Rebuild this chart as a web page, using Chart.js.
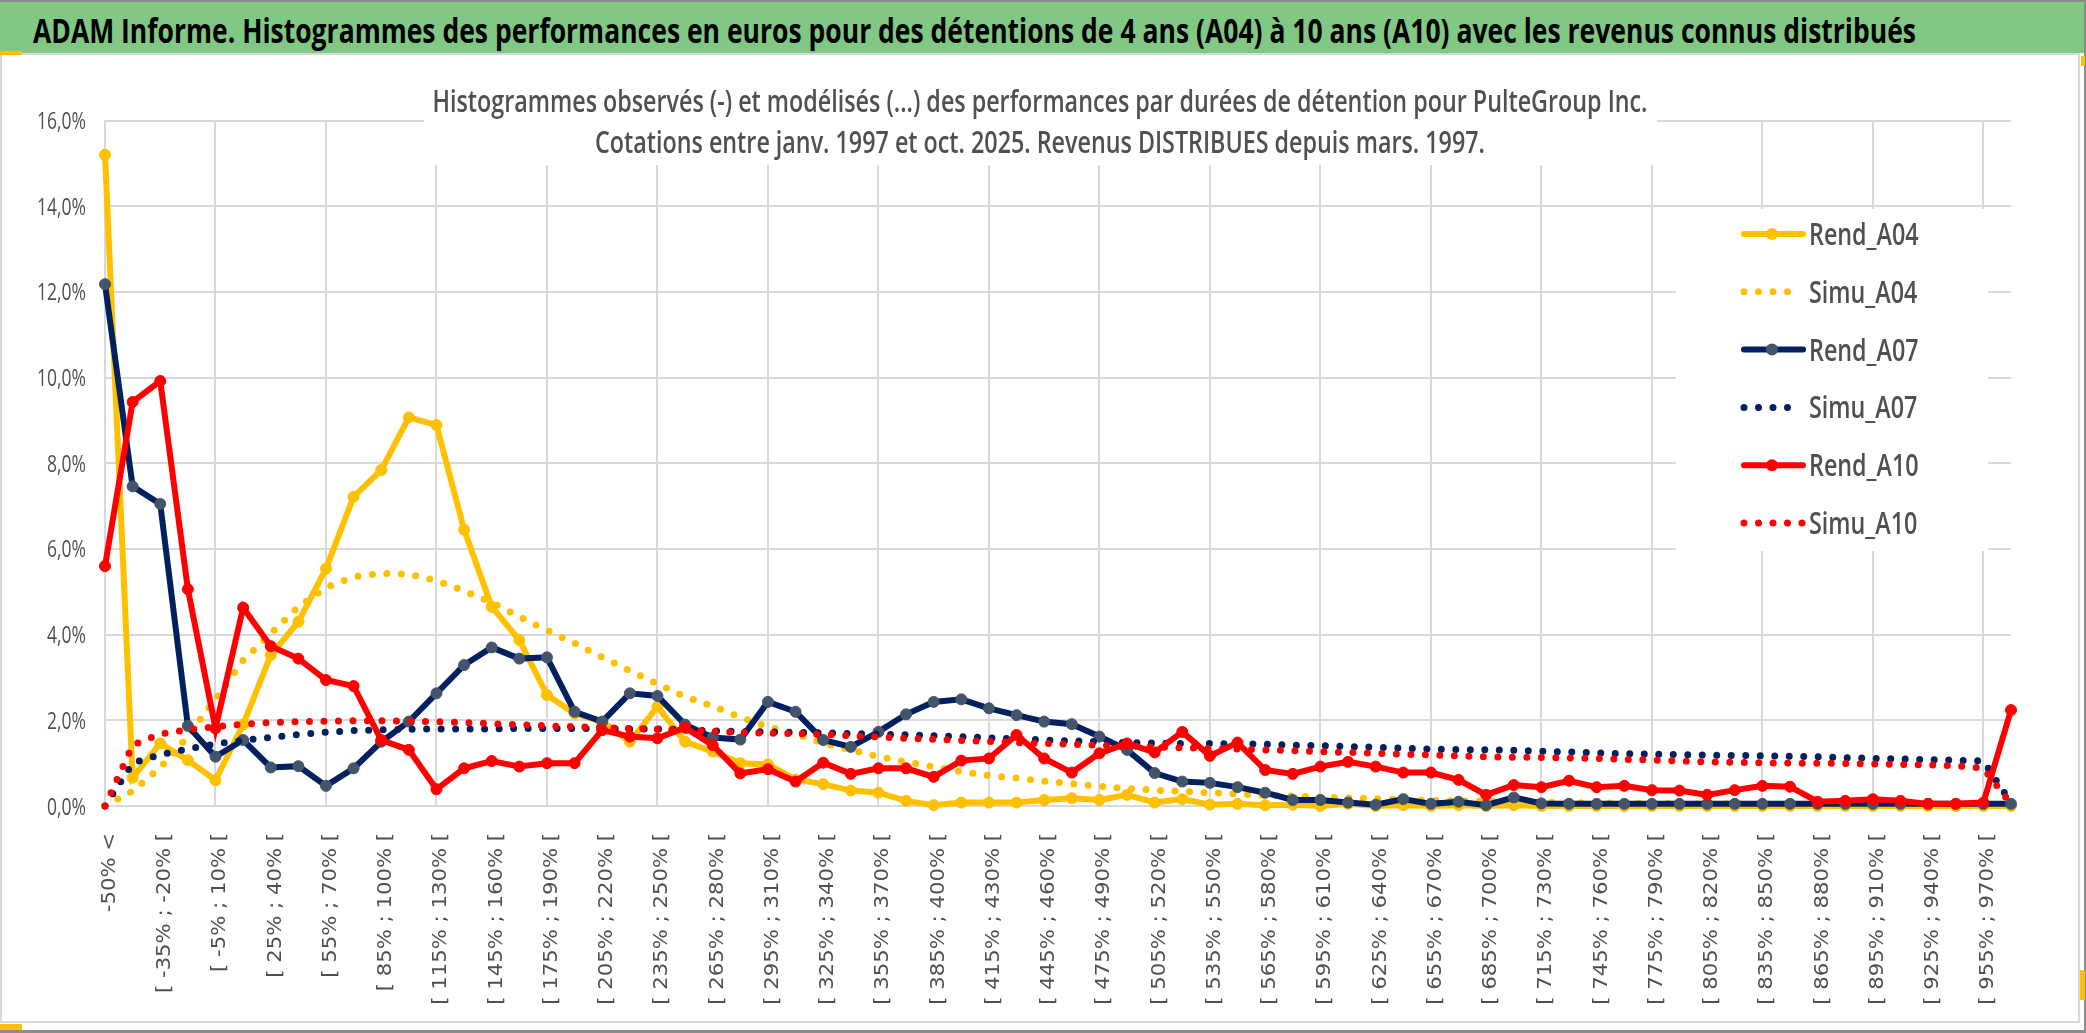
<!DOCTYPE html>
<html lang="fr">
<head>
<meta charset="utf-8">
<title>ADAM Informe - PulteGroup Inc.</title>
<script src="https://cdn.jsdelivr.net/npm/chart.js@4.4.1/dist/chart.umd.min.js"></script>
<style>
    html, body { margin: 0; padding: 0; background: #fff; }
    body { width: 2086px; height: 1033px; position: relative; overflow: hidden; }
    #chart-box { position: absolute; left: 0; top: 0; width: 2086px; height: 1033px; }
    #frame { position: absolute; left: 0; top: 53px; width: 2080px; height: 970px; border: 2px solid #d9d9d9; box-sizing: border-box; }
    #header { position: absolute; left: 0; top: 2px; width: 2086px; height: 51px; background: #80c883; z-index: 2; }
    #header span { position: absolute; left: 33px; top: 11px; font: 700 34px/34px 'Open Sans', sans-serif; color: #000; white-space: nowrap; transform-origin: 0 0; }
    .edge { position: absolute; z-index: 3; }
</style>
</head>
<body>
<div id="frame"></div>
<div id="chart-box"><canvas id="perf-chart"></canvas></div>
<div id="header"><span id="header-text">ADAM Informe. Histogrammes des performances en euros pour des détentions de 4 ans (A04) à 10 ans (A10) avec les revenus connus distribués</span></div>
<div class="edge" style="left:0;top:0;width:2086px;height:2px;background:#8c8c8c"></div>
<div class="edge" style="left:0;top:1030px;width:2086px;height:3px;background:#8c8c8c"></div>
<div class="edge" style="left:2084px;top:0;width:2px;height:1033px;background:#8c8c8c"></div>
<div class="edge" style="left:0;top:51px;width:22px;height:4px;background:#ffc000"></div>
<div class="edge" style="left:0;top:1024px;width:22px;height:6px;background:#ffc000"></div>
<div class="edge" style="left:2081px;top:56px;width:4px;height:10px;background:#ffc000"></div>
<div class="edge" style="left:2080px;top:970px;width:5px;height:30px;background:#ffc000"></div>
<script>
// Classes de performance (axe des x)
const categories = [
    "-50% <",
    "[ -50% ; -35% [", "[ -35% ; -20% [", "[ -20% ; -5% [", "[ -5% ; 10% [", "[ 10% ; 25% [",
    "[ 25% ; 40% [", "[ 40% ; 55% [", "[ 55% ; 70% [", "[ 70% ; 85% [", "[ 85% ; 100% [",
    "[ 100% ; 115% [", "[ 115% ; 130% [", "[ 130% ; 145% [", "[ 145% ; 160% [", "[ 160% ; 175% [",
    "[ 175% ; 190% [", "[ 190% ; 205% [", "[ 205% ; 220% [", "[ 220% ; 235% [", "[ 235% ; 250% [",
    "[ 250% ; 265% [", "[ 265% ; 280% [", "[ 280% ; 295% [", "[ 295% ; 310% [", "[ 310% ; 325% [",
    "[ 325% ; 340% [", "[ 340% ; 355% [", "[ 355% ; 370% [", "[ 370% ; 385% [", "[ 385% ; 400% [",
    "[ 400% ; 415% [", "[ 415% ; 430% [", "[ 430% ; 445% [", "[ 445% ; 460% [", "[ 460% ; 475% [",
    "[ 475% ; 490% [", "[ 490% ; 505% [", "[ 505% ; 520% [", "[ 520% ; 535% [", "[ 535% ; 550% [",
    "[ 550% ; 565% [", "[ 565% ; 580% [", "[ 580% ; 595% [", "[ 595% ; 610% [", "[ 610% ; 625% [",
    "[ 625% ; 640% [", "[ 640% ; 655% [", "[ 655% ; 670% [", "[ 670% ; 685% [", "[ 685% ; 700% [",
    "[ 700% ; 715% [", "[ 715% ; 730% [", "[ 730% ; 745% [", "[ 745% ; 760% [", "[ 760% ; 775% [",
    "[ 775% ; 790% [", "[ 790% ; 805% [", "[ 805% ; 820% [", "[ 820% ; 835% [", "[ 835% ; 850% [",
    "[ 850% ; 865% [", "[ 865% ; 880% [", "[ 880% ; 895% [", "[ 895% ; 910% [", "[ 910% ; 925% [",
    "[ 925% ; 940% [", "[ 940% ; 955% [", "[ 955% ; 970% [",
    "> 970%"
];

const yTickLabels = ["0,0%", "2,0%", "4,0%", "6,0%", "8,0%", "10,0%", "12,0%", "14,0%", "16,0%"];

const subtitleLines = [
    "Histogrammes observés (-) et modélisés (...) des performances par durées de détention pour PulteGroup Inc.",
    "Cotations entre janv. 1997 et oct. 2025. Revenus DISTRIBUES depuis mars. 1997."
];

// Fréquences en %
const rendA04 = [15.2, 0.66, 1.46, 1.07, 0.6, 1.9, 3.52, 4.3, 5.54, 7.22,
    7.84, 9.07, 8.89, 6.45, 4.65, 3.87, 2.59, 2.16, 1.97, 1.5,
    2.32, 1.5, 1.27, 1.0, 0.97, 0.62, 0.51, 0.36, 0.31, 0.12,
    0.02, 0.08, 0.08, 0.08, 0.14, 0.18, 0.14, 0.26, 0.08, 0.16,
    0.03, 0.05, 0.02, 0.03, 0.0, 0.05, 0.0, 0.02, 0.0, 0.02,
    0.0, 0.02, 0, 0, 0, 0, 0, 0, 0, 0,
    0, 0, 0, 0, 0, 0, 0, 0, 0, 0];

const simuA04 = [0, 0.35, 0.9, 1.62, 2.5, 3.4, 4.02, 4.65, 5.1, 5.35,
    5.43, 5.41, 5.26, 5.02, 4.75, 4.42, 4.1, 3.8, 3.47, 3.16,
    2.85, 2.55, 2.33, 2.07, 1.85, 1.68, 1.47, 1.31, 1.15, 1.03,
    0.92, 0.8, 0.71, 0.65, 0.58, 0.52, 0.46, 0.41, 0.37, 0.34,
    0.31, 0.28, 0.25, 0.23, 0.21, 0.19, 0.17, 0.15, 0.13, 0.12,
    0.11, 0.1, 0.09, 0.08, 0.07, 0.07, 0.06, 0.06, 0.05, 0.05,
    0.04, 0.04, 0.04, 0.03, 0.03, 0.03, 0.03, 0.02, 0.02, 0.0];

const rendA07 = [12.18, 7.46, 7.05, 1.87, 1.15, 1.54, 0.9, 0.93, 0.47, 0.88,
    1.5, 1.97, 2.63, 3.29, 3.7, 3.44, 3.47, 2.2, 1.97, 2.63,
    2.57, 1.9, 1.6, 1.55, 2.43, 2.2, 1.54, 1.38, 1.73, 2.14,
    2.43, 2.49, 2.28, 2.12, 1.97, 1.91, 1.62, 1.31, 0.77, 0.57,
    0.54, 0.44, 0.31, 0.14, 0.14, 0.08, 0.03, 0.16, 0.05, 0.1,
    0.02, 0.2, 0.06, 0.05, 0.05, 0.05, 0.05, 0.05, 0.05, 0.05,
    0.05, 0.05, 0.05, 0.05, 0.05, 0.05, 0.05, 0.05, 0.05, 0.05];

const simuA07 = [0, 1.0, 1.2, 1.33, 1.45, 1.53, 1.6, 1.67, 1.72, 1.76,
    1.78, 1.79, 1.8, 1.8, 1.8, 1.81, 1.81, 1.81, 1.81, 1.8,
    1.8, 1.78, 1.75, 1.74, 1.73, 1.72, 1.71, 1.69, 1.68, 1.66,
    1.64, 1.62, 1.59, 1.57, 1.54, 1.52, 1.5, 1.48, 1.47, 1.46,
    1.46, 1.45, 1.44, 1.42, 1.41, 1.39, 1.37, 1.35, 1.33, 1.32,
    1.31, 1.3, 1.28, 1.26, 1.24, 1.22, 1.21, 1.2, 1.19, 1.18,
    1.17, 1.16, 1.15, 1.13, 1.11, 1.1, 1.08, 1.07, 1.05, 0.08];

const rendA10 = [5.6, 9.43, 9.92, 5.06, 1.81, 4.63, 3.73, 3.44, 2.94, 2.8,
    1.54, 1.31, 0.39, 0.88, 1.05, 0.92, 1.0, 1.0, 1.77, 1.62,
    1.58, 1.83, 1.42, 0.76, 0.86, 0.57, 1.01, 0.75, 0.88, 0.88,
    0.68, 1.06, 1.11, 1.66, 1.11, 0.78, 1.23, 1.46, 1.25, 1.73,
    1.17, 1.48, 0.84, 0.75, 0.92, 1.03, 0.92, 0.78, 0.78, 0.61,
    0.26, 0.49, 0.44, 0.59, 0.44, 0.47, 0.37, 0.36, 0.26, 0.37,
    0.47, 0.45, 0.1, 0.12, 0.16, 0.12, 0.05, 0.05, 0.08, 2.24];

const simuA10 = [0, 1.42, 1.68, 1.78, 1.85, 1.91, 1.95, 1.97, 1.98, 1.99,
    1.99, 1.98, 1.97, 1.95, 1.92, 1.9, 1.87, 1.85, 1.83, 1.81,
    1.79, 1.77, 1.74, 1.72, 1.7, 1.69, 1.67, 1.64, 1.61, 1.58,
    1.56, 1.53, 1.51, 1.48, 1.46, 1.44, 1.42, 1.4, 1.38, 1.36,
    1.34, 1.33, 1.31, 1.29, 1.27, 1.25, 1.23, 1.21, 1.19, 1.17,
    1.15, 1.14, 1.13, 1.12, 1.11, 1.09, 1.07, 1.05, 1.03, 1.02,
    1.01, 1.0, 1.0, 0.99, 0.98, 0.97, 0.96, 0.94, 0.88, 0.05];

const YELLOW = '#ffc000';
const NAVY = '#002060';
const NAVY_MARKER = '#44546a';
const RED = '#ff0000';
const GREY_TEXT = '#505050';
const GRID = '#d9d9d9';
const SANS = "'Open Sans', sans-serif";

// Ajuste la largeur du bandeau comme dans la feuille d'origine
const headerText = document.getElementById('header-text');
headerText.style.transform = 'scaleX(' + (1883 / headerText.getBoundingClientRect().width) + ')';

function rendSet(label, data, line, marker) {
    return {
        label: label, data: data, borderColor: line, borderWidth: 6,
        pointRadius: 5.5, pointBackgroundColor: marker, pointBorderColor: marker, pointBorderWidth: 1,
        pointHoverRadius: 5.5, tension: 0, clip: false, simu: false
    };
}

function simuSet(label, data, color) {
    return {
        label: label, data: data, borderColor: color, borderWidth: 7,
        borderDash: [0, 14.5], borderCapStyle: 'round', pointRadius: 0, pointHoverRadius: 0,
        tension: 0, clip: false, simu: true
    };
}

const datasets = [
    rendSet('Rend_A04', rendA04, YELLOW, YELLOW),
    simuSet('Simu_A04', simuA04, YELLOW),
    rendSet('Rend_A07', rendA07, NAVY, NAVY_MARKER),
    simuSet('Simu_A07', simuA07, NAVY),
    rendSet('Rend_A10', rendA10, RED, RED),
    simuSet('Simu_A10', simuA10, RED)
];
// la dernière série passe au-dessus, comme dans Excel
datasets.forEach((d, i) => { d.order = datasets.length - 1 - i; });

// Texte condensé (police de remplacement plus large que Calibri)
function squeezedText(ctx, text, x, y, sx, align) {
    ctx.save();
    ctx.translate(x, y);
    ctx.scale(sx, 1);
    ctx.textAlign = align;
    ctx.textBaseline = 'alphabetic';
    ctx.fillText(text, 0, 0);
    ctx.restore();
}

const excelDecor = {
    id: 'excelDecor',
    beforeDatasetsDraw(chart) {
        const ctx = chart.ctx;
        const xs = chart.scales.x;
        const area = chart.chartArea;
        ctx.save();

        // quadrillage vertical : une ligne toutes les 4 classes
        ctx.strokeStyle = GRID;
        ctx.lineWidth = 2;
        categories.forEach((lab, i) => {
            if (i % 4 !== 0) return;
            const x = Math.round(xs.getPixelForValue(i));
            ctx.beginPath();
            ctx.moveTo(x, area.top);
            ctx.lineTo(x, area.bottom);
            ctx.stroke();
        });

        // cadres blancs du titre et de la légende (masquent le quadrillage)
        ctx.fillStyle = '#fff';
        ctx.fillRect(424, 58, 1233, 107);
        ctx.fillRect(1676, 209, 312, 342);

        // titre du graphique
        ctx.fillStyle = GREY_TEXT;
        ctx.font = '600 31px ' + SANS;
        const k = 1215 / ctx.measureText(subtitleLines[0]).width;
        squeezedText(ctx, subtitleLines[0], 1040, 112, k, 'center');
        squeezedText(ctx, subtitleLines[1], 1040, 153, k, 'center');

        // légende
        chart.data.datasets.forEach((ds, n) => {
            const yc = 234 + n * 57.8;
            ctx.save();
            ctx.strokeStyle = ds.borderColor;
            ctx.lineCap = 'round';
            if (ds.simu) {
                ctx.lineWidth = 7;
                ctx.setLineDash([0, 14.5]);
                ctx.beginPath();
                ctx.moveTo(1744, yc);
                ctx.lineTo(n === 5 ? 1803 : 1790, yc);
                ctx.stroke();
            } else {
                ctx.lineWidth = 6;
                ctx.beginPath();
                ctx.moveTo(1744, yc);
                ctx.lineTo(1803, yc);
                ctx.stroke();
                ctx.fillStyle = ds.pointBackgroundColor;
                ctx.beginPath();
                ctx.arc(1772, yc, 6, 0, Math.PI * 2);
                ctx.fill();
            }
            ctx.restore();
            ctx.fillStyle = GREY_TEXT;
            ctx.font = '600 31px ' + SANS;
            squeezedText(ctx, ds.label, 1809, yc + 11, k, 'left');
        });
        ctx.restore();
    },
    afterDraw(chart) {
        const ctx = chart.ctx;
        const xs = chart.scales.x;
        const ys = chart.scales.y;
        ctx.save();
        ctx.fillStyle = GREY_TEXT;

        // étiquettes de l'axe des y
        ctx.font = '24px ' + SANS;
        const ky = 49 / ctx.measureText('16,0%').width;
        ys.ticks.forEach((t, i) => {
            squeezedText(ctx, yTickLabels[i], 86, ys.getPixelForValue(t.value) + 8.5, ky, 'right');
        });

        // étiquettes de l'axe des x, verticales, une sur deux
        ctx.font = "20px 'DejaVu Sans', sans-serif";
        const kx = 160 / ctx.measureText(categories[2]).width;
        categories.forEach((lab, i) => {
            if (i % 2 !== 0) return;
            ctx.save();
            ctx.translate(xs.getPixelForValue(i) + 10, 833);
            ctx.rotate(-Math.PI / 2);
            ctx.scale(kx, 1);
            ctx.textAlign = 'right';
            ctx.textBaseline = 'alphabetic';
            ctx.fillText(lab, 0, 0);
            ctx.restore();
        });
        ctx.restore();
    }
};

const ctx = document.getElementById('perf-chart').getContext('2d');
new Chart(ctx, {
    type: 'line',
    data: { labels: categories, datasets: datasets },
    options: {
        responsive: true,
        maintainAspectRatio: false,
        animation: false,
        devicePixelRatio: 1,
        layout: { padding: { left: 105, right: 75, top: 120.5, bottom: 227 } },
        plugins: {
            legend: { display: false },
            title: { display: false },
            tooltip: { enabled: false }
        },
        scales: {
            x: {
                type: 'category',
                offset: false,
                ticks: { display: false, autoSkip: false },
                grid: { display: false },
                border: { display: true, color: GRID, width: 2 },
                afterFit: s => { s.height = 0; }
            },
            y: {
                min: 0,
                max: 16,
                ticks: { display: false, stepSize: 2 },
                grid: { drawTicks: false, color: GRID, lineWidth: 2 },
                border: { display: true, color: GRID, width: 2 },
                afterFit: s => { s.width = 0; }
            }
        }
    },
    plugins: [excelDecor]
});
</script>
</body>
</html>
